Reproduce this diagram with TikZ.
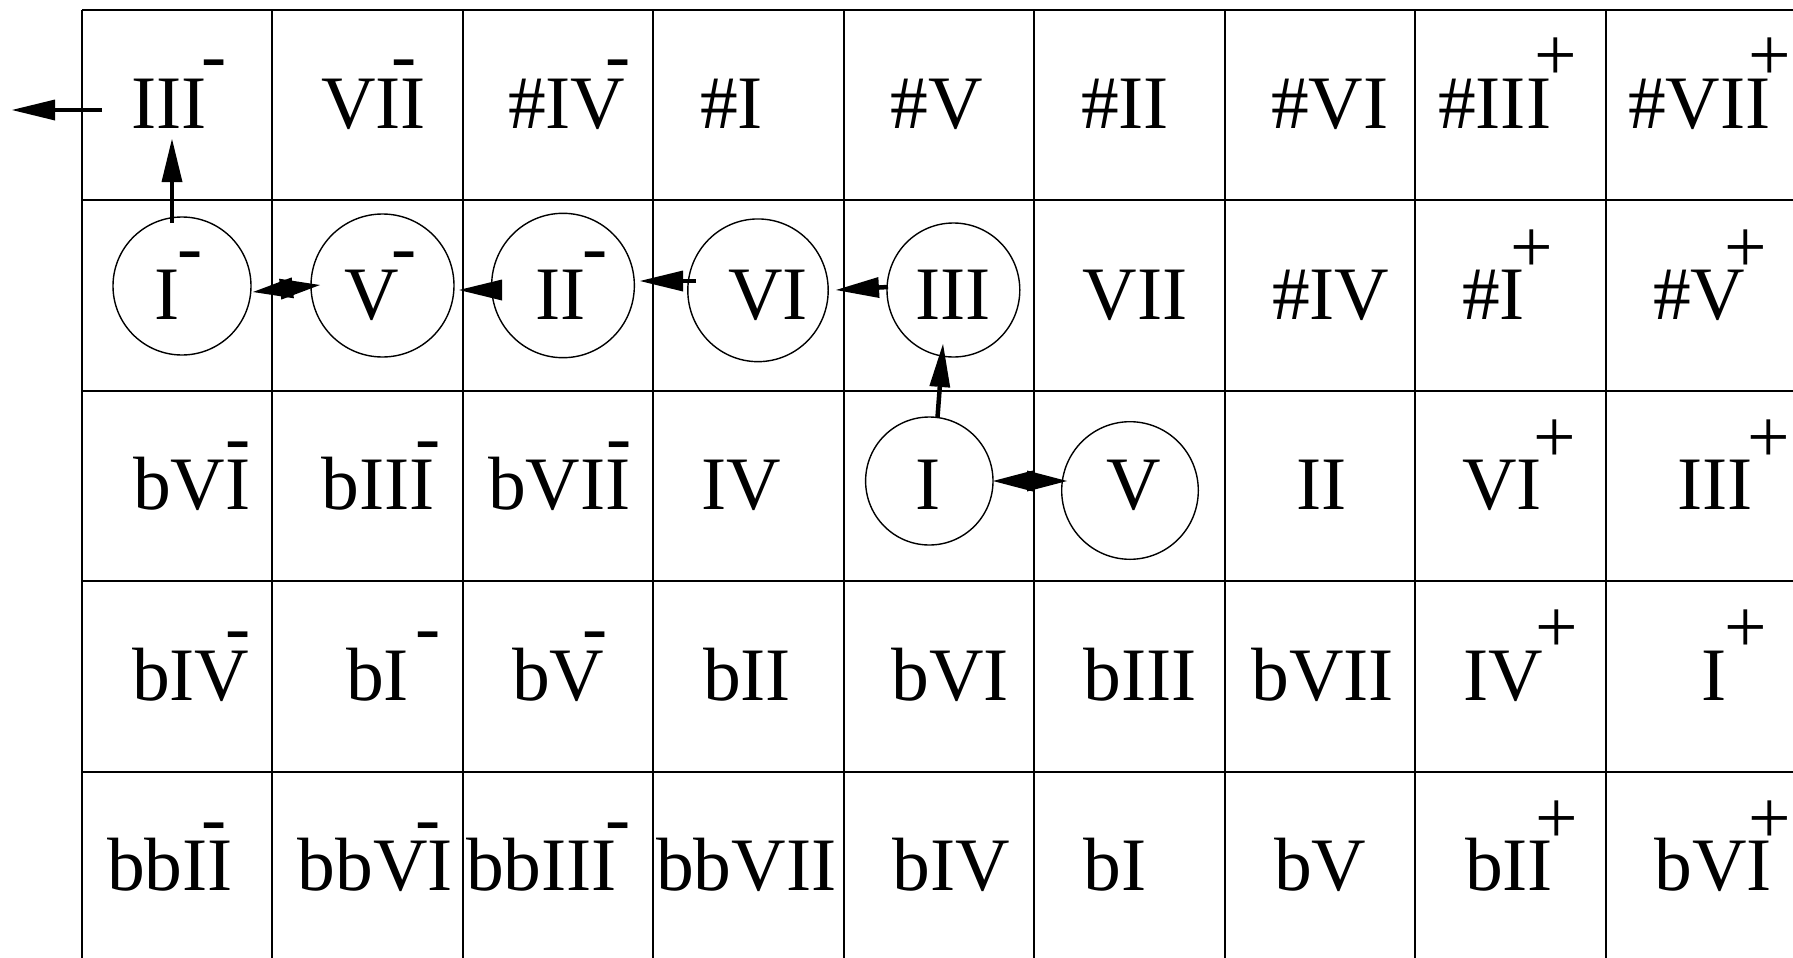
\documentclass[tikz,border=0pt]{standalone}
\usepackage{fontspec}
\setmainfont{Liberation Serif}
\usetikzlibrary{arrows.meta,shapes.geometric}
\begin{document}
\begin{tikzpicture}[x=1pt,y=-1pt,
  lab/.style={anchor=base west,inner sep=0pt,outer sep=0pt,font=\fontsize{75.5}{80}\selectfont},
  ell/.style={ellipse,draw,line width=1.4pt,inner sep=0pt,outer sep=0pt},
  grid line/.style={line width=1.8pt},
  arr/.style={line width=4.5pt,-{Triangle[length=43pt,width=21pt,line width=0pt]}},
  darr/.style={line width=4.5pt,{Triangle[length=40pt,width=21pt,line width=0pt]}-{Triangle[length=40pt,width=21pt,line width=0pt]}}]
\useasboundingbox (0,0) rectangle (1793,958);
\clip (0,0) rectangle (1793,958);
% grid
\foreach \yy in {10,200,391,581,772,962} \draw[grid line] (82,\yy) -- (1800,\yy);
\foreach \xx in {82,272,463,653,844,1034,1225,1415,1606,1796} \draw[grid line] (\xx,10) -- (\xx,965);
% row 0
\node[lab] (r0c0) at (131,128) {III};   \node[lab] (r0c0s) at (201,81) {-};
\node[lab] (r0c1) at (321,128) {VII};   \node[lab] (r0c1s) at (391,81) {-};
\node[lab] (r0c2) at (508,128) {\#IV};  \node[lab] (r0c2s) at (605.5,81) {-};
\node[lab] (r0c3) at (700,128) {\#I};
\node[lab] (r0c4) at (890.5,128) {\#V};
\node[lab] (r0c5) at (1081,128) {\#II};
\node[lab] (r0c6) at (1271,128) {\#VI};
\node[lab] (r0c7) at (1438,128) {\#III}; \node[lab] (r0c7s) at (1534,81) {+};
\node[lab] (r0c8) at (1628,128) {\#VII}; \node[lab] (r0c8s) at (1748,81) {+};
% row 1
\node[lab] (r1c0) at (154,319) {I};     \node[lab] (r1c0s) at (177,272) {-};
\node[lab] (r1c1) at (344,319) {V};     \node[lab] (r1c1s) at (391,272) {-};
\node[lab] (r1c2) at (535,319) {II};    \node[lab] (r1c2s) at (582,272) {-};
\node[lab] (r1c3) at (728,319) {VI};
\node[lab] (r1c4) at (915.5,319) {III};
\node[lab] (r1c5) at (1082.5,319) {VII};
\node[lab] (r1c6) at (1272,319) {\#IV};
\node[lab] (r1c7) at (1462,319) {\#I};  \node[lab] (r1c7s) at (1510.5,272) {+};
\node[lab] (r1c8) at (1653,319) {\#V};  \node[lab] (r1c8s) at (1724.5,272) {+};
% row 2
\node[lab] (r2c0) at (133,509.5) {bVI};   \node[lab] (r2c0s) at (225.5,462) {-};
\node[lab] (r2c1) at (321.5,509.5) {bIII}; \node[lab] (r2c1s) at (415.5,462) {-};
\node[lab] (r2c2) at (488,509.5) {bVII};  \node[lab] (r2c2s) at (606.5,462) {-};
\node[lab] (r2c3) at (701,509.5) {IV};
\node[lab] (r2c4) at (915.5,509.5) {I};
\node[lab] (r2c5) at (1106,509.5) {V};
\node[lab] (r2c6) at (1296.5,509.5) {II};
\node[lab] (r2c7) at (1462,509.5) {VI};   \node[lab] (r2c7s) at (1533,462) {+};
\node[lab] (r2c8) at (1677,509.5) {III};  \node[lab] (r2c8s) at (1747.5,462) {+};
% row 3
\node[lab] (r3c0) at (132,700) {bIV};   \node[lab] (r3c0s) at (225.5,652.5) {-};
\node[lab] (r3c1) at (346,700) {bI};    \node[lab] (r3c1s) at (415,652.5) {-};
\node[lab] (r3c2) at (512,700) {bV};    \node[lab] (r3c2s) at (582.5,652.5) {-};
\node[lab] (r3c3) at (703,700) {bII};
\node[lab] (r3c4) at (891.5,700) {bVI};
\node[lab] (r3c5) at (1083.5,700) {bIII};
\node[lab] (r3c6) at (1251.5,700) {bVII};
\node[lab] (r3c7) at (1463,700) {IV};   \node[lab] (r3c7s) at (1535,652.5) {+};
\node[lab] (r3c8) at (1701.5,700) {I};  \node[lab] (r3c8s) at (1724,652.5) {+};
% row 4
\node[lab] (r4c0) at (107,890) {bbII};   \node[lab] (r4c0s) at (201,843) {-};
\node[lab] (r4c1) at (297.5,890) {bbVI}; \node[lab] (r4c1s) at (415,843) {-};
\node[lab] (r4c2) at (466,890) {bbIII};  \node[lab] (r4c2s) at (605.5,843) {-};
\node[lab] (r4c3) at (656,890) {bbVII};
\node[lab] (r4c4) at (892.5,890) {bIV};
\node[lab] (r4c5) at (1083.5,890) {bI};
\node[lab] (r4c6) at (1274,890) {bV};
\node[lab] (r4c7) at (1465,890) {bII};   \node[lab] (r4c7s) at (1535,843) {+};
\node[lab] (r4c8) at (1654.5,890) {bVI}; \node[lab] (r4c8s) at (1748.5,843) {+};
% circles
\node[ell,minimum width=138pt,minimum height=138pt] (cIm) at (182,286) {};
\node[ell,minimum width=143pt,minimum height=143pt] (cVm) at (382.5,285.5) {};
\node[ell,minimum width=142.7pt,minimum height=144.4pt] (cIIm) at (563,285.5) {};
\node[ell,minimum width=140.4pt,minimum height=142.7pt] (cVI) at (758,290.3) {};
\node[ell,minimum width=132.8pt,minimum height=134pt] (cIII) at (953.4,290) {};
\node[ell,minimum width=127.4pt,minimum height=128pt] (cI) at (929.3,481) {};
\node[ell,minimum width=136.6pt,minimum height=137.6pt] (cV) at (1130,490.5) {};
\coordinate (exitL) at (12,110);
% arrows
\draw[arr] ([shift={(-29,-18)}]r0c0.base west) -- (exitL);
\draw[arr] ([shift={(-10,6)}]cIm.north) -- ([shift={(41,11)}]r0c0.base west);
\draw[darr] ([shift={(2,6)}]cIm.east) -- ([shift={(9,-0.5)}]cVm.west);
\draw[arr] ([shift={(10.35,4.5)}]cIIm.west) -- ([shift={(5,4.5)}]cVm.east);
\draw[arr] ([shift={(8.2,-9.3)}]cVI.west) -- ([shift={(5.65,-4.5)}]cIIm.east);
\draw[arr] ([shift={(1,-3)}]cIII.west) -- ([shift={(7.8,-0.3)}]cVI.east);
\draw[arr] ([shift={(8.2,0.3)}]cI.north) -- ([shift={(-10.4,-13)}]cIII.south);
\draw[darr] (cI.east) -- ([shift={(5.3,-9.5)}]cV.west);
\end{tikzpicture}
\end{document}
